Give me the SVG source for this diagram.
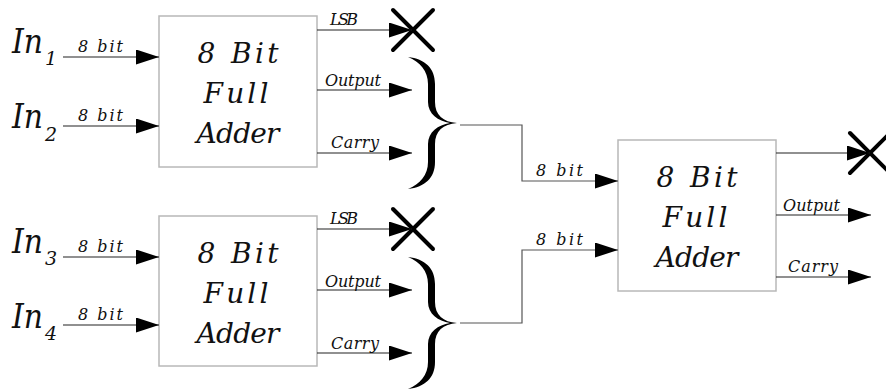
<svg xmlns="http://www.w3.org/2000/svg" width="886" height="389" viewBox="0 0 886 389">
  <style>
    .box { fill: #ffffff; stroke: #b8b8b8; stroke-width: 1.5; }
    .wire { fill: none; stroke: #222222; stroke-width: 1.2; }
    .link { fill: none; stroke: #555555; stroke-width: 1.2; }
    .cross { stroke: #000000; stroke-width: 4; stroke-linecap: round; }
    .brace { fill: #000000; }
    text { font-family: 'DejaVu Serif', 'Liberation Serif', serif; font-style: italic; fill: #111111; }
    .title { font-size: 28px; text-anchor: middle; }
    .lbl { font-size: 16px; }
    .in { font-size: 33px; }
    .sub { font-size: 19px; }
  </style>
  <defs>
    <marker id="head" markerUnits="userSpaceOnUse" markerWidth="23" markerHeight="15" refX="23" refY="7.5" orient="auto">
      <path d="M0,0 L23,7.5 L0,15 Z" fill="#000000"/>
    </marker>
    <path id="brace" class="brace" d="M0,0 C17,2 27,11 27,27 L27,45 C27,58 35,65 49,66 C35,67 27,74 27,87 L27,105 C27,121 17,130 0,132 C12,127 20,118 20,105 L20,87 C20,75 30,68 42,66 C30,64 20,57 20,45 L20,27 C20,14 12,5 0,0 Z"/>
    <g id="xmark">
      <line class="cross" x1="-20" y1="-20" x2="20" y2="20"/>
      <line class="cross" x1="20" y1="-20" x2="-20" y2="20"/>
    </g>
  </defs>

  <!-- input labels -->
  <g id="in1">
    <text class="in" x="12" y="53"><tspan textLength="31" lengthAdjust="spacingAndGlyphs">In</tspan><tspan class="sub" x="45" dy="12">1</tspan></text>
  </g>
  <g id="in2">
    <text class="in" x="12" y="128"><tspan textLength="31" lengthAdjust="spacingAndGlyphs">In</tspan><tspan class="sub" x="45" dy="13">2</tspan></text>
  </g>
  <g id="in3">
    <text class="in" x="12" y="253"><tspan textLength="31" lengthAdjust="spacingAndGlyphs">In</tspan><tspan class="sub" x="45" dy="12">3</tspan></text>
  </g>
  <g id="in4">
    <text class="in" x="12" y="328"><tspan textLength="31" lengthAdjust="spacingAndGlyphs">In</tspan><tspan class="sub" x="45" dy="12">4</tspan></text>
  </g>

  <!-- adder blocks -->
  <g id="adder1">
    <rect class="box" x="159" y="16" width="158" height="151"/>
    <text class="title" x="238" y="63" textLength="81">8 Bit</text>
    <text class="title" x="236" y="103" textLength="65">Full</text>
    <text class="title" x="238" y="143" textLength="83">Adder</text>
  </g>
  <g id="adder2">
    <rect class="box" x="159" y="216" width="158" height="150"/>
    <text class="title" x="238" y="263" textLength="81">8 Bit</text>
    <text class="title" x="236" y="303" textLength="65">Full</text>
    <text class="title" x="238" y="343" textLength="83">Adder</text>
  </g>
  <g id="adder3">
    <rect class="box" x="618" y="140" width="158" height="151"/>
    <text class="title" x="697" y="187" textLength="81">8 Bit</text>
    <text class="title" x="695" y="227" textLength="65">Full</text>
    <text class="title" x="697" y="267" textLength="83">Adder</text>
  </g>

  <!-- discarded LSB outputs -->
  <g id="drop1"><use href="#xmark" x="413" y="30"/></g>
  <g id="drop2"><use href="#xmark" x="413" y="229"/></g>
  <g id="drop3"><use href="#xmark" x="870" y="153"/></g>

  <!-- output groupings -->
  <g id="group1"><use href="#brace" x="408" y="57"/></g>
  <g id="group2"><use href="#brace" x="408" y="257"/></g>

  <g id="connectors">
    <line class="wire" x1="63" y1="57" x2="159" y2="57" marker-end="url(#head)"/>
    <line class="wire" x1="63" y1="126" x2="159" y2="126" marker-end="url(#head)"/>
    <line class="wire" x1="63" y1="257" x2="159" y2="257" marker-end="url(#head)"/>
    <line class="wire" x1="63" y1="325" x2="159" y2="325" marker-end="url(#head)"/>

    <line class="wire" x1="317" y1="30" x2="412" y2="30" marker-end="url(#head)"/>
    <line class="wire" x1="317" y1="90" x2="412" y2="90" marker-end="url(#head)"/>
    <line class="wire" x1="317" y1="153" x2="412" y2="153" marker-end="url(#head)"/>

    <line class="wire" x1="317" y1="229" x2="412" y2="229" marker-end="url(#head)"/>
    <line class="wire" x1="317" y1="290" x2="412" y2="290" marker-end="url(#head)"/>
    <line class="wire" x1="317" y1="353" x2="412" y2="353" marker-end="url(#head)"/>

    <polyline class="link" points="460,125 522,125 522,181 618,181" marker-end="url(#head)"/>
    <polyline class="link" points="460,323 522,323 522,250 618,250" marker-end="url(#head)"/>

    <line class="wire" x1="776" y1="153" x2="870" y2="153" marker-end="url(#head)"/>
    <line class="wire" x1="776" y1="215" x2="871" y2="215" marker-end="url(#head)"/>
    <line class="wire" x1="776" y1="277" x2="871" y2="277" marker-end="url(#head)"/>

    <!-- connector labels -->
    <text class="lbl" x="78" y="52" textLength="45">8 bit</text>
    <text class="lbl" x="78" y="121" textLength="45">8 bit</text>
    <text class="lbl" x="78" y="252" textLength="45">8 bit</text>
    <text class="lbl" x="78" y="320" textLength="45">8 bit</text>

    <text class="lbl" x="330" y="25" textLength="28">LSB</text>
    <text class="lbl" x="325" y="86" textLength="56">Output</text>
    <text class="lbl" x="331" y="148" textLength="48">Carry</text>

    <text class="lbl" x="330" y="224" textLength="28">LSB</text>
    <text class="lbl" x="325" y="287" textLength="56">Output</text>
    <text class="lbl" x="331" y="349" textLength="48">Carry</text>

    <text class="lbl" x="536" y="176" textLength="47">8 bit</text>
    <text class="lbl" x="536" y="245" textLength="47">8 bit</text>

    <text class="lbl" x="783" y="211" textLength="57">Output</text>
    <text class="lbl" x="788" y="272" textLength="50">Carry</text>
  </g>
</svg>
